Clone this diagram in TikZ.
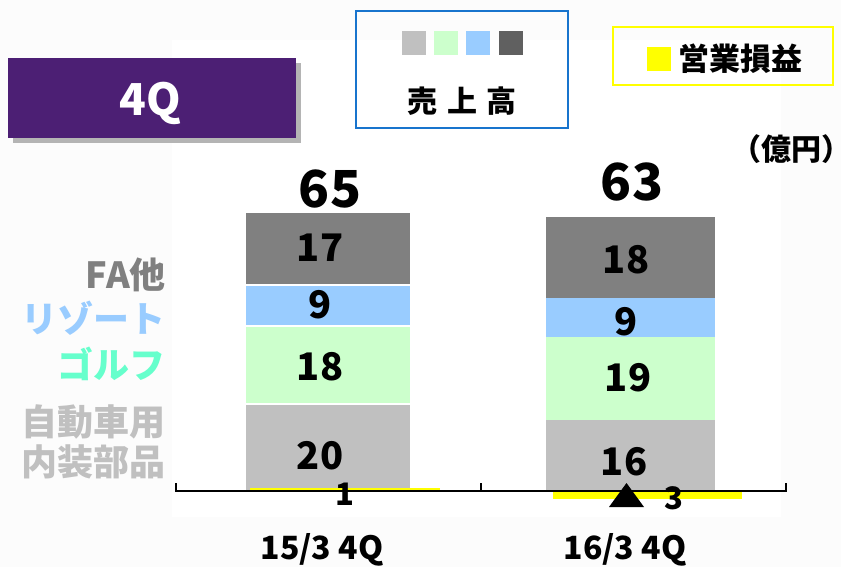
\documentclass[tikz,border=0pt]{standalone}
\usepackage{fontspec}
\setmainfont{Noto Sans CJK JP}
\begin{document}
\begin{tikzpicture}[x=1pt,y=-1pt,
  txt/.style={inner sep=0pt,font=\bfseries},
  seg/.style={draw=white,line width=1.2pt},
  num/.style={txt,font=\fontsize{38}{40}\bfseries\selectfont},
  tot/.style={txt,font=\fontsize{51}{54}\bfseries\selectfont},
  cat/.style={txt,font=\fontsize{32}{34}\bfseries\selectfont},
  lab/.style={txt,anchor=east,font=\fontsize{36}{38}\bfseries\selectfont}]
\definecolor{purp}{HTML}{4C1F74}
\definecolor{shad}{HTML}{B4B4B4}
\definecolor{dgray}{HTML}{808080}
\definecolor{lblue}{HTML}{99CCFF}
\definecolor{lgreen}{HTML}{CCFFCC}
\definecolor{lgray}{HTML}{C0C0C0}
\definecolor{ddgray}{HTML}{606060}
\definecolor{bordblue}{HTML}{1874CD}
\definecolor{golf}{HTML}{66FFCC}
\definecolor{yel}{HTML}{FFFF00}
\definecolor{bg}{HTML}{FCFCFC}
\useasboundingbox[fill=bg] (0,0) rectangle (841,567);
\fill[white] (172,40) rectangle (781,517);

% title box
\fill[shad] (13,63) rectangle (301,143);
\fill[purp] (8,58) rectangle (296,138);
\node[txt,text=white,font=\fontsize{44}{46}\bfseries\selectfont] (title) at (150,103) {4Q};

% legend sales
\draw[bordblue,line width=2pt] (356,11) rectangle (568,128);
\fill[lgray] (402,31) rectangle (426,55);
\fill[lgreen] (434,31) rectangle (458,55);
\fill[lblue] (466,31) rectangle (490,55);
\fill[ddgray] (499,31) rectangle (523,55);
\node[txt,font=\fontsize{30}{32}\bfseries\selectfont] (sales) at (462,101) {売\hspace{0.33em}上\hspace{0.33em}高};

% legend operating income
\draw[yel,line width=2pt] (613,27) rectangle (833,85);
\fill[yel] (647,47) rectangle (671,71);
\node[txt,font=\fontsize{31}{33}\bfseries\selectfont] (oi) at (740,59) {営業損益};

\node[txt,anchor=east,font=\fontsize{30}{32}\bfseries\selectfont] (unit) at (822,149) {（億円\rlap{）}};

% left bar
\filldraw[seg,fill=lgray] (245,404) rectangle (411,491);
\filldraw[seg,fill=lgreen] (245,326) rectangle (411,404);
\filldraw[seg,fill=lblue] (245,285) rectangle (411,326);
\filldraw[seg,fill=dgray] (245,212) rectangle (411,285);
% right bar
\fill[lgray] (546,420) rectangle (715,491);
\fill[lgreen] (546,337) rectangle (715,420);
\fill[lblue] (546,298) rectangle (715,337);
\fill[dgray] (546,217) rectangle (715,298);

% operating income bars
\fill[yel] (250,488) rectangle (440,491.5);
\fill[yel] (553,491) rectangle (742,499);

% axis
\draw[line width=2pt] (176,483) -- (176,491) -- (786,491) -- (786,483);
\draw[line width=2pt] (481,483) -- (481,491);

% totals
\node[tot] (t1) at (330,189) {65};
\node[tot] (t2) at (632,182) {63};

% segment values
\node[num] (a1) at (320,248) {17};
\node[num] (a2) at (320,305) {9};
\node[num] (a3) at (320,367) {18};
\node[num] (a4) at (320,456) {20};
\node[num] (b1) at (626,260) {18};
\node[num] (b2) at (626,322) {9};
\node[num] (b3) at (628,378) {19};
\node[num] (b4) at (624,462) {16};

% operating income values
\node[txt,font=\fontsize{31}{33}\bfseries\selectfont] (o1) at (345,494) {1};
\fill (609,507) -- (644,507) -- (626.5,483) -- cycle;
\node[txt,font=\fontsize{31}{33}\bfseries\selectfont] (o2) at (674,498) {3};

% categories
\node[cat] (c1) at (322,550) {15/3 4Q};
\node[cat] (c2) at (625,550) {16/3 4Q};

% segment labels
\node[lab,text=dgray] (l1) at (166,275) {FA他};
\node[lab,text=lblue] (l2) at (166,318) {リゾート};
\node[lab,text=golf] (l3) at (166,364) {ゴルフ};
\node[lab,text=lgray] (l4) at (166,422) {自動車用};
\node[lab,text=lgray] (l5) at (166,462) {内装部品};
\end{tikzpicture}
\end{document}
